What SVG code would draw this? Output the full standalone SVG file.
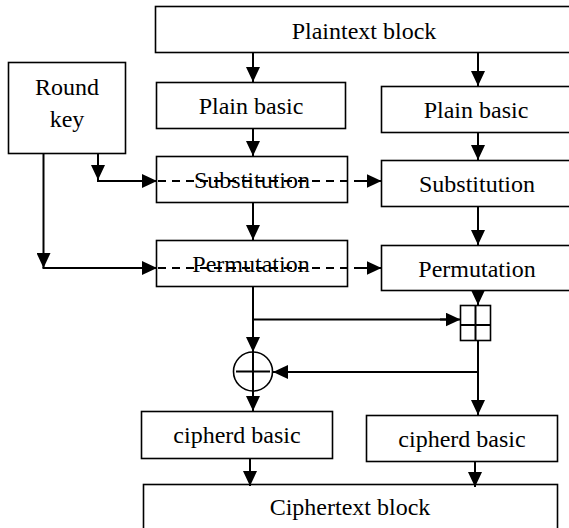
<svg xmlns="http://www.w3.org/2000/svg" width="569" height="528" viewBox="0 0 569 528">
  <style>
    .box { fill: #fff; stroke: #000; stroke-width: 1.6; }
    .lbl { font-family: "Liberation Serif", "Times New Roman", serif; font-size: 24px; fill: #000; text-anchor: middle; }
    .wire { fill: none; stroke: #000; stroke-width: 2; }
    .arr { marker-end: url(#head); }
    .dash { stroke-dasharray: 8 6; }
  </style>
  <defs>
    <marker id="head" markerUnits="userSpaceOnUse" viewBox="0 0 15 14" markerWidth="15" markerHeight="14" refX="15" refY="7" orient="auto">
      <path d="M0,0 L15,7 L0,14 z" fill="#000"/>
    </marker>
  </defs>

  <rect width="569" height="528" fill="#fff"/>

  <g id="plaintext">
    <rect class="box" x="155.5" y="6.5" width="418" height="46"/>
    <text class="lbl" x="364" y="39">Plaintext block</text>
  </g>
  <g id="roundkey">
    <rect class="box" x="8.5" y="62.5" width="117" height="91"/>
    <text class="lbl" x="67" y="95">Round</text>
    <text class="lbl" x="67" y="127">key</text>
  </g>
  <g id="plain-left">
    <rect class="box" x="156.5" y="82.5" width="189" height="46"/>
    <text class="lbl" x="251" y="114">Plain basic</text>
  </g>
  <g id="plain-right">
    <rect class="box" x="381.5" y="86.5" width="190" height="46"/>
    <text class="lbl" x="476" y="118">Plain basic</text>
  </g>
  <g id="subst-left">
    <rect class="box" x="156.5" y="156.5" width="191" height="46"/>
    <text class="lbl" x="252" y="188">Substitution</text>
  </g>
  <g id="subst-right">
    <rect class="box" x="381.5" y="160.5" width="190" height="46"/>
    <text class="lbl" x="477" y="192">Substitution</text>
  </g>
  <g id="perm-left">
    <rect class="box" x="156.5" y="240.5" width="191" height="46"/>
    <text class="lbl" x="251" y="272">Permutation</text>
  </g>
  <g id="perm-right">
    <rect class="box" x="381.5" y="245.5" width="190" height="45"/>
    <text class="lbl" x="477" y="277">Permutation</text>
  </g>
  <g id="add">
    <rect class="box" x="460.5" y="305.5" width="30" height="35"/>
    <line class="wire" x1="475.5" y1="305.5" x2="475.5" y2="340.5" stroke-width="1.6"/>
    <line class="wire" x1="460.5" y1="325" x2="490.5" y2="325" stroke-width="1.6"/>
  </g>
  <g id="xor">
    <circle class="box" cx="253" cy="371.5" r="19.5"/>
    <line class="wire" x1="253" y1="352" x2="253" y2="391" stroke-width="1.6"/>
    <line class="wire" x1="236" y1="371.5" x2="270" y2="371.5" stroke-width="1.6"/>
  </g>
  <g id="cipher-left">
    <rect class="box" x="141.5" y="411.5" width="191" height="47"/>
    <text class="lbl" x="237" y="443">cipherd basic</text>
  </g>
  <g id="cipher-right">
    <rect class="box" x="366.5" y="415.5" width="191" height="46"/>
    <text class="lbl" x="462" y="447">cipherd basic</text>
  </g>
  <g id="ciphertext">
    <rect class="box" x="143.5" y="484.5" width="414" height="60"/>
    <text class="lbl" x="350" y="515">Ciphertext block</text>
  </g>

  <g id="connectors">
    <!-- main data path, left column -->
    <line class="wire arr" x1="253" y1="53" x2="253" y2="82"/>
    <line class="wire arr" x1="253" y1="129" x2="253" y2="156"/>
    <line class="wire arr" x1="253" y1="203" x2="253" y2="240"/>
    <line class="wire arr" x1="253" y1="287" x2="253" y2="352"/>
    <line class="wire" x1="253" y1="319.5" x2="446" y2="319.5"/>
    <line class="wire arr" x1="440" y1="319.5" x2="460.5" y2="319.5"/>
    <line class="wire arr" x1="253" y1="391" x2="253" y2="411"/>
    <line class="wire arr" x1="250" y1="459" x2="250" y2="486"/>

    <!-- main data path, right column -->
    <line class="wire arr" x1="478" y1="53" x2="478" y2="86"/>
    <line class="wire arr" x1="478" y1="133" x2="478" y2="160"/>
    <line class="wire arr" x1="478" y1="207" x2="478" y2="245"/>
    <line class="wire arr" x1="478" y1="291" x2="478" y2="305"/>
    <line class="wire arr" x1="478" y1="341" x2="478" y2="415"/>
    <line class="wire arr" x1="478" y1="372" x2="273" y2="372"/>
    <line class="wire arr" x1="475" y1="462" x2="475" y2="487"/>

    <!-- round key distribution -->
    <line class="wire arr" x1="98" y1="153" x2="98" y2="180"/>
    <line class="wire arr" x1="97" y1="181" x2="157" y2="181"/>
    <line class="wire dash" x1="158" y1="181" x2="367" y2="181"/>
    <line class="wire arr" x1="360" y1="181" x2="381.5" y2="181"/>

    <line class="wire arr" x1="43.5" y1="153" x2="43.5" y2="268"/>
    <line class="wire arr" x1="42.5" y1="268" x2="157" y2="268"/>
    <line class="wire dash" x1="158" y1="268" x2="367" y2="268"/>
    <line class="wire arr" x1="362" y1="268" x2="381.5" y2="268"/>
  </g>
</svg>
